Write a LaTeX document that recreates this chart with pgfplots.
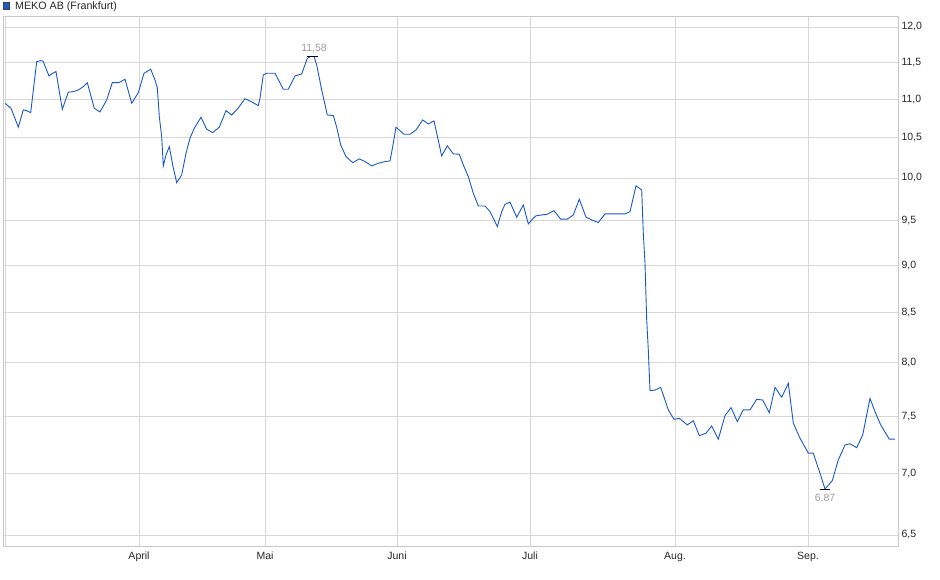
\documentclass[border=0pt]{standalone}
\usepackage{pgfplots}
\pgfplotsset{compat=1.18}
\usepackage{fontspec}
\setmainfont{Liberation Sans}
\definecolor{lineblue}{RGB}{25,88,200}
\definecolor{gridgray}{RGB}{215,215,215}
\definecolor{framegray}{RGB}{200,200,200}
\definecolor{annogray}{RGB}{155,155,155}
\begin{document}
\begin{tikzpicture}[x=1pt,y=1pt]
\useasboundingbox (0,0) rectangle (940,579);
% legend square and title
\fill[lineblue, draw=black!75, line width=0.6pt] (3.3,569.8) rectangle (9.5,576.2);
\node[anchor=base west, inner sep=0pt, font=\fontsize{10.7}{12}\selectfont, text=black!85] at (15,569.7) {MEKO AB (Frankfurt)};
\begin{axis}[
    scale only axis,
    width=895pt, height=530pt,
    anchor=south west, at={(3pt,33pt)},
    xmin=3, xmax=898,
    ymode=log, ymin=6.414, ymax=12.16,
    axis line style={framegray, line width=0.8pt},
    grid=major,
    major grid style={gridgray, line width=0.8pt},
    tick style={draw=none},
    xtick={5,139,265,397,530,675,808},
    xticklabels={,April,Mai,Juni,Juli,Aug.,Sep.},
    ytick={6.5,7,7.5,8,8.5,9,9.5,10,10.5,11,11.5,12},
    yticklabels={{6,5},{7,0},{7,5},{8,0},{8,5},{9,0},{9,5},{10,0},{10,5},{11,0},{11,5},{12,0}},
    yticklabel pos=right,
    ticklabel style={font=\fontsize{10.5}{12}\selectfont, text=black!85},
    xticklabel style={yshift=-2.5pt},
    clip=false,
]
\addplot[lineblue, line width=0.9pt, mark=none] coordinates {
(5,10.944) (11,10.878) (14.3,10.769) (18.3,10.632) (23.3,10.856) (26.7,10.847)
(30.7,10.821) (36.7,11.508) (41,11.522) (43,11.515) (49,11.311) (52.7,11.348)
(56,11.370) (62.3,10.865) (68.3,11.091) (73.3,11.099) (78.3,11.121) (83.3,11.166)
(87.3,11.220) (94.3,10.878) (100,10.830) (106.7,10.988) (112.3,11.220) (119,11.220)
(125,11.266) (131.7,10.944) (138.3,11.085) (144,11.348) (150.7,11.403) (155,11.256)
(157.3,11.152) (159.3,10.769) (161.7,10.512) (163.3,10.147) (166,10.282) (169.3,10.386)
(172.7,10.159) (176.7,9.944) (181.7,10.037) (186,10.303) (190,10.492) (194.3,10.619)
(201,10.761) (206.7,10.606) (212.7,10.563) (219.3,10.632) (226,10.847) (231.7,10.791)
(237.3,10.865) (245,11.005) (251.7,10.962) (258.3,10.913) (260,11.011) (263.3,11.325)
(266.7,11.348) (275,11.348) (283.3,11.131) (288.3,11.131) (295,11.311) (301.7,11.338)
(307.3,11.555) (310.7,11.580) (314,11.580) (316.7,11.462) (321.7,11.121) (327.3,10.791)
(333.3,10.782) (336.7,10.632) (340.7,10.407) (346,10.261) (352.7,10.187) (359.3,10.233)
(365,10.200) (371.7,10.147) (378.3,10.180) (385,10.200) (390,10.208) (392.7,10.386)
(396,10.632) (400,10.588) (404,10.542) (410,10.542) (416,10.597) (422.7,10.726)
(428.3,10.674) (434,10.713) (436.7,10.555) (441.7,10.270) (447.3,10.395) (453.3,10.295)
(459.3,10.291) (463.3,10.159) (468.3,10.017) (473.3,9.818) (478.3,9.668) (485,9.668)
(490,9.602) (493.3,9.526) (497.3,9.430) (501.7,9.602) (505,9.688) (510,9.712)
(516.7,9.538) (523.3,9.680) (528.3,9.461) (533.3,9.526) (536,9.553) (541.7,9.564)
(547.3,9.572) (554,9.614) (560.7,9.515) (567.3,9.515) (573.3,9.564) (579.3,9.747)
(586,9.538) (591.7,9.507) (598.3,9.476) (605,9.576) (611.7,9.576) (618.3,9.576)
(625,9.576) (630,9.602) (636,9.905) (641.7,9.857) (643.3,9.355) (645,9.023)
(646.7,8.426) (648.3,8.126) (650,7.737) (655,7.742) (660.7,7.768) (668.3,7.559)
(674,7.474) (679.3,7.483) (687.3,7.423) (693.3,7.461) (699.3,7.328) (706,7.349)
(711.7,7.414) (718.3,7.296) (725,7.507) (731,7.580) (737.3,7.453) (743.3,7.559)
(750,7.559) (756.7,7.657) (762.7,7.650) (769.3,7.534) (775,7.768) (781.7,7.675)
(788.3,7.806) (793.3,7.438) (800,7.305) (808.3,7.174) (813.3,7.174) (820,7.003)
(825,6.870) (832.3,6.940) (838.3,7.116) (845,7.246) (850,7.255) (856.7,7.222)
(862.7,7.334) (870,7.665) (875,7.543) (880.7,7.423) (889.3,7.296) (895,7.296)
};
% high and low markers
\draw[black, line width=0.9pt] (axis cs:307,11.58) -- (axis cs:318,11.58);
\node[anchor=south, inner sep=3pt, font=\fontsize{10.5}{12}\selectfont, text=annogray] at (axis cs:314,11.58) {11,58};
\draw[black, line width=0.9pt] (axis cs:820,6.87) -- (axis cs:830,6.87);
\node[anchor=north, inner sep=4.5pt, font=\fontsize{10.5}{12}\selectfont, text=annogray] at (axis cs:825,6.87) {6,87};
\end{axis}
\end{tikzpicture}
\end{document}
